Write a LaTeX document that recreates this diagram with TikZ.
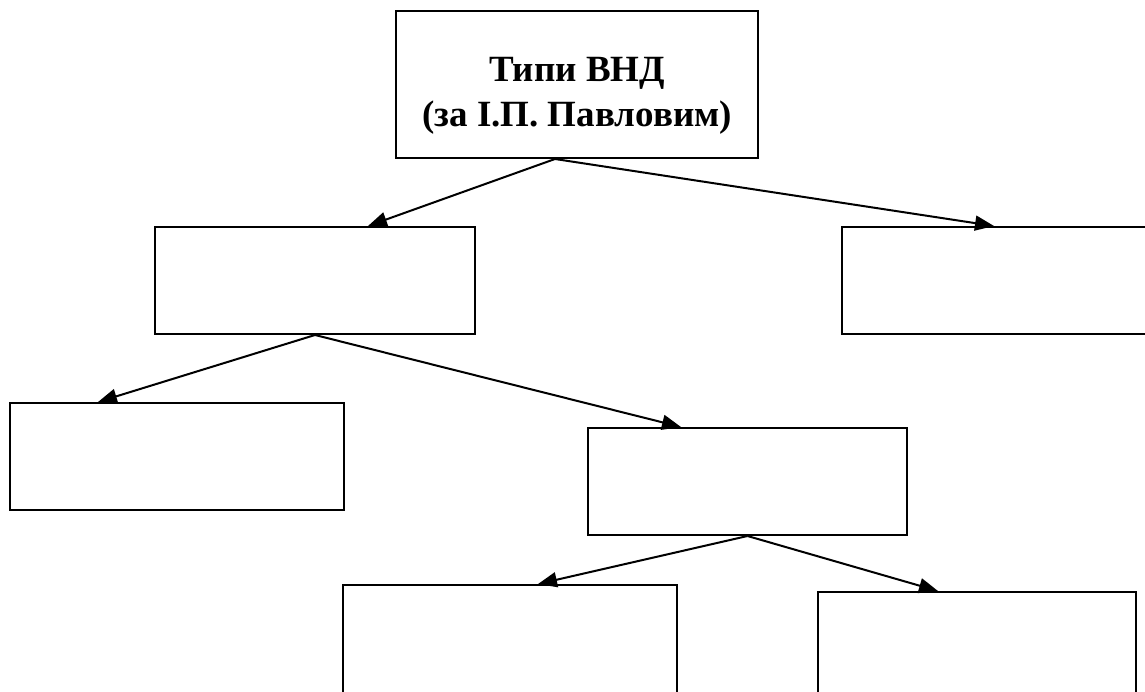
\documentclass[tikz,border=0pt]{standalone}
\usepackage{fontspec}
\setmainfont{Liberation Serif}
\usetikzlibrary{arrows.meta}
\begin{document}
\begin{tikzpicture}[x=1pt,y=-1pt,
  box/.style={draw=black, line width=2pt, rectangle, anchor=north west, inner sep=0pt, fill=white},
  conn/.style={draw=black, line width=2pt, -{Triangle[length=19pt,width=15pt]}},
  title/.style={align=center, anchor=base, inner sep=0pt, font=\bfseries\fontsize{37}{45}\selectfont}]
\clip (0,0) rectangle (1145,692);
% boxes
\node[box, minimum width=362pt, minimum height=147pt] (T) at (395,10) {};
\node[title] (Tlabel) at ([yshift=-42.5pt]T.center) {Типи ВНД\\(за І.П. Павловим)};
\node[box, minimum width=320pt, minimum height=107pt] (A) at (154,226) {};
\node[box, minimum width=319pt, minimum height=107pt] (B) at (841,226) {};
\node[box, minimum width=334pt, minimum height=107pt] (C) at (9,402) {};
\node[box, minimum width=319pt, minimum height=107pt] (D) at (587,427) {};
\node[box, minimum width=334pt, minimum height=130pt] (E) at (342,584) {};
\node[box, minimum width=318pt, minimum height=130pt] (F) at (817,591) {};
% connectors
\draw[conn] ([xshift=-22pt]T.south) -- ([xshift=53pt]A.north);
\draw[conn] ([xshift=-22pt]T.south) -- ([xshift=-7.5pt]B.north);
\draw[conn] (A.south) -- ([xshift=-79pt]C.north);
\draw[conn] (A.south) -- ([xshift=-66.5pt]D.north);
\draw[conn] (D.south) -- ([xshift=28pt]E.north);
\draw[conn] (D.south) -- ([xshift=-39pt]F.north);
\end{tikzpicture}
\end{document}
